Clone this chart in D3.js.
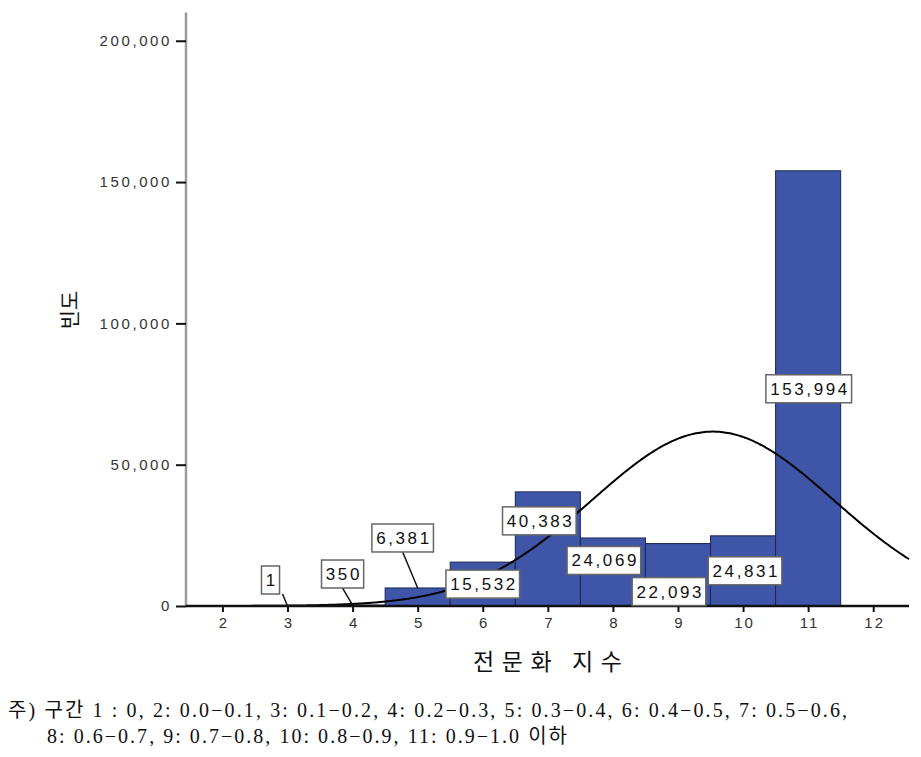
<!DOCTYPE html>
<html><head><meta charset="utf-8">
<script src="https://cdn.jsdelivr.net/npm/d3@7"></script>
<style>
body{margin:0;background:#fff;}
svg{display:block;}
</style></head>
<body>
<svg id="c" width="921" height="757"></svg>
<script>
// ---- data ----
const bins = [3, 4, 5, 6, 7, 8, 9, 10, 11];
const counts = [1, 350, 6381, 15532, 40383, 24069, 22093, 24831, 153994];
const labelTexts = ["1", "350", "6,381", "15,532", "40,383", "24,069", "22,093", "24,831", "153,994"];
const xTicks = [2, 3, 4, 5, 6, 7, 8, 9, 10, 11, 12];
const yTicks = [0, 50000, 100000, 150000, 200000];
const xTitle = "전문화 지수";
const yTitle = "빈도";
const noteLines = [
  "주) 구간 1 : 0, 2: 0.0−0.1, 3: 0.1−0.2, 4: 0.2−0.3, 5: 0.3−0.4, 6: 0.4−0.5, 7: 0.5−0.6,",
  "8: 0.6−0.7, 9: 0.7−0.8, 10: 0.8−0.9, 11: 0.9−1.0 이하"
];
// label placement offsets (px) relative to bar centre / bar top
const labelOffsets = [[-17,-26],[-10,-31],[-15,-50],[0,22],[-8.5,29],[-9,22.5],[-9,48],[2,35],[0.6,218]];
const leaderLines = [true, true, true, false, false, false, false, false, false];

const svg = d3.select("#c");
const x = d3.scaleLinear().domain([1.44, 12.55]).range([186, 909]);
const y = d3.scaleLinear().domain([0, 210000]).range([606, 12.5]);

const fill = "#3f56a8", edge = "#1b2650";

// bars
svg.append("g").selectAll("rect").data(bins).join("rect")
  .attr("x", d => x(d - 0.5))
  .attr("width", d => x(d + 0.5) - x(d - 0.5))
  .attr("y", (d,i) => y(counts[i]))
  .attr("height", (d,i) => y(0) - y(counts[i]))
  .attr("fill", fill).attr("stroke", edge).attr("stroke-width", 1);

// normal curve fitted from data
const N = d3.sum(counts);
const mean = d3.sum(bins, (b,i) => b*counts[i]) / N;
const sd = Math.sqrt(d3.sum(bins, (b,i) => (b-mean)*(b-mean)*counts[i]) / N);
const pts = d3.range(0, 401).map(k => {
  const v = 1.44 + (12.55 - 1.44) * k / 400;
  const z = (v - mean) / sd;
  return [v, N / (sd * Math.sqrt(2*Math.PI)) * Math.exp(-0.5*z*z)];
});
svg.append("path").datum(pts)
  .attr("d", d3.line().x(d => x(d[0])).y(d => y(d[1])).curve(d3.curveBasis))
  .attr("fill", "none").attr("stroke", "#000").attr("stroke-width", 2);

// axes
const yAxis = svg.append("g").attr("transform", "translate(186,0)")
  .call(d3.axisLeft(y).tickValues(yTicks).tickSize(10).tickPadding(4).tickFormat(d3.format(",")));
yAxis.select(".domain").attr("stroke", "#9a9a9a").attr("stroke-width", 2.5)
  .attr("d", `M0,${y(210000)}V${y(0)}`);
yAxis.selectAll(".tick line").attr("stroke", "#111").attr("stroke-width", 2);
yAxis.selectAll(".tick text").attr("font-family", "Liberation Sans, Arial, sans-serif")
  .attr("font-size", 15).attr("letter-spacing", "2.6px").attr("fill", "#333");

const xAxis = svg.append("g").attr("transform", `translate(0,${y(0)})`)
  .call(d3.axisBottom(x).tickValues(xTicks).tickSize(6).tickPadding(5).tickFormat(d3.format("d")));
xAxis.select(".domain").attr("stroke", "#111").attr("stroke-width", 2.5)
  .attr("d", `M${x(1.44)},0H${x(12.55)}`);
xAxis.selectAll(".tick line").attr("stroke", "#111").attr("stroke-width", 2);
xAxis.selectAll(".tick text").attr("font-family", "Liberation Sans, Arial, sans-serif")
  .attr("font-size", 15).attr("letter-spacing", "2px").attr("dx", "1px").attr("fill", "#333");

// data labels
const lg = svg.append("g");
bins.forEach((b, i) => {
  const cx = x(b) + labelOffsets[i][0];
  const cy = y(counts[i]) + labelOffsets[i][1];
  const g = lg.append("g");
  const t = g.append("text").text(labelTexts[i])
    .attr("font-family", "Liberation Sans, Arial, sans-serif")
    .attr("font-size", 17).attr("letter-spacing", "2.6px").attr("fill", "#111")
    .attr("text-anchor", "middle").attr("x", cx + 1.3).attr("y", cy + 6);
  const w = t.node().getComputedTextLength() + 6;
  const h = 28;
  if (leaderLines[i]) {
    g.insert("line", "text").attr("x1", cx + (i === 0 ? 12 : 0)).attr("y1", cy + h/2)
      .attr("x2", x(b)).attr("y2", y(counts[i]))
      .attr("stroke", "#111").attr("stroke-width", 1.5);
  }
  g.insert("rect", "text").attr("x", cx - w/2).attr("y", cy - h/2)
    .attr("width", w).attr("height", h)
    .attr("fill", "#fff").attr("stroke", "#666").attr("stroke-width", 1.5);
});

// titles
svg.append("text").text(xTitle).attr("x", 473).attr("y", 670)
  .attr("font-family", "Noto Sans CJK KR")
  .attr("font-size", 23).attr("textLength", 149).attr("lengthAdjust", "spacing").attr("fill", "#111");
svg.append("text").text(yTitle)
  .attr("transform", "translate(77,310) rotate(-90)")
  .attr("text-anchor", "middle").attr("font-family", "Noto Sans CJK KR")
  .attr("font-size", 21).attr("fill", "#111");

// note
svg.append("text").text(noteLines[0]).attr("x", 8).attr("y", 717)
  .attr("font-family", "Liberation Serif, Noto Sans CJK KR").attr("font-size", 20)
  .attr("textLength", 839).attr("lengthAdjust", "spacing").attr("fill", "#111");
svg.append("text").text(noteLines[1]).attr("x", 47).attr("y", 743)
  .attr("font-family", "Liberation Serif, Noto Sans CJK KR").attr("font-size", 20)
  .attr("textLength", 520).attr("lengthAdjust", "spacing").attr("fill", "#111");
</script>
</body></html>
